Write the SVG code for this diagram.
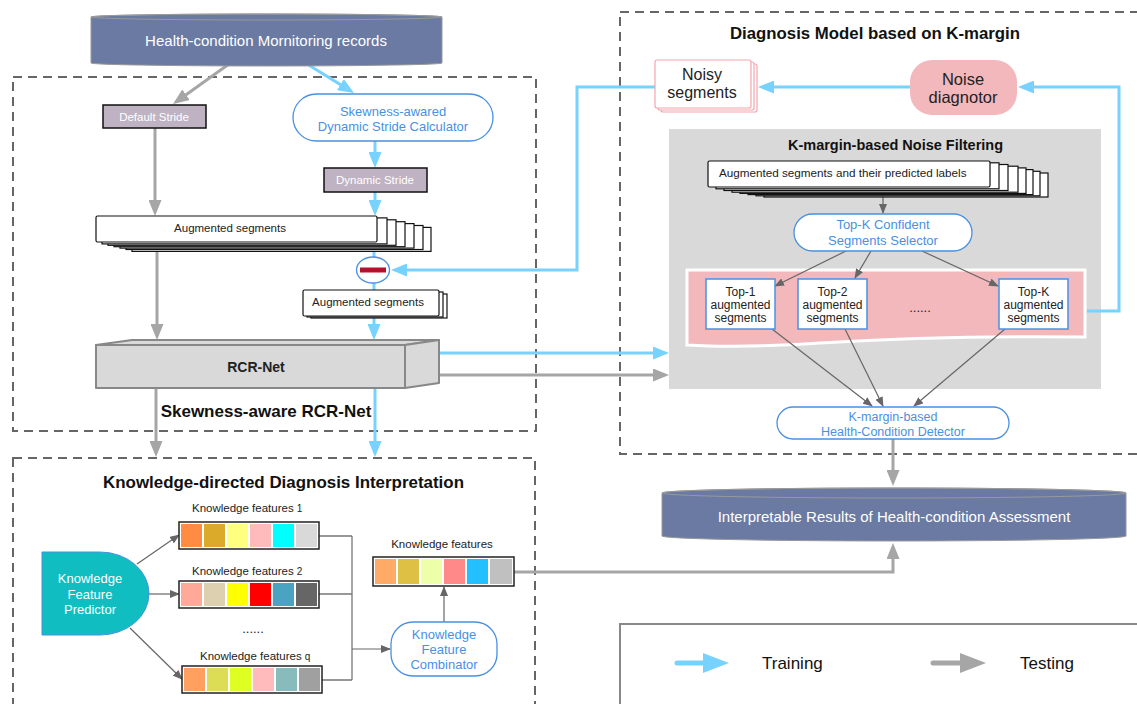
<svg xmlns="http://www.w3.org/2000/svg" width="1137" height="704" viewBox="0 0 1137 704">
<defs>
<marker id="ab" viewBox="0 0 16 13" refX="12" refY="6.5" markerWidth="16" markerHeight="13" markerUnits="userSpaceOnUse" orient="auto"><path d="M0,0 L16,6.5 L0,13 Z" fill="#78d2ff"/></marker>
<marker id="ag" viewBox="0 0 16 13" refX="12" refY="6.5" markerWidth="16" markerHeight="13" markerUnits="userSpaceOnUse" orient="auto"><path d="M0,0 L16,6.5 L0,13 Z" fill="#a6a6a6"/></marker>
<marker id="at" viewBox="0 0 10 8" refX="9" refY="4" markerWidth="10" markerHeight="8" markerUnits="userSpaceOnUse" orient="auto"><path d="M0,0 L10,4 L0,8 Z" fill="#666"/></marker>
<style>
.t{font-family:"Liberation Sans",Arial,sans-serif}
.dash{fill:none;stroke:#666;stroke-width:2;stroke-dasharray:9 6}
.blue{fill:none;stroke:#78d2ff;stroke-width:3;marker-end:url(#ab)}
.bluel{fill:none;stroke:#78d2ff;stroke-width:3}
.gray{fill:none;stroke:#a6a6a6;stroke-width:3;marker-end:url(#ag)}
.thin{fill:none;stroke:#666;stroke-width:1.2;marker-end:url(#at)}
.thinl{fill:none;stroke:#777;stroke-width:1.3}
.card{fill:#fff;stroke:#111;stroke-width:1.2}
.pcard{fill:#fff;stroke:#f4a6ad;stroke-width:1.2}
.pill{fill:#fff;stroke:#4a90e2;stroke-width:1.3}
.bt{fill:#4a90e2}
.wt{fill:#fff}
.dk{fill:#222}
.stride{fill:#bfb2c3;stroke:#111;stroke-width:1.5}
.cyl{fill:#6a7aa2;stroke:#999;stroke-width:1}
.rcr{fill:#d9d9d9;stroke:#888;stroke-width:2;stroke-linejoin:round}
.topk{fill:#fff;stroke:#4a90e2;stroke-width:1.5}
.bar{fill:#fff;stroke:#222;stroke-width:1.5}
.b{font-weight:bold}
</style>
</defs>

<!-- containers -->
<g id="containers">
<rect class="dash" x="13" y="77" width="523" height="354"/>
<rect class="dash" x="13" y="458" width="522" height="270"/>
<rect class="dash" x="620" y="12" width="540" height="442"/>
<rect x="669" y="129" width="432" height="260" fill="#d9d9d9"/>
<path d="M687,270 H1085 V337 C1000,336 900,338 820,343 C760,347 720,347 687,345 Z" fill="#f2b8bc" stroke="#fff" stroke-width="3"/>
<rect id="legend-box" x="620" y="624" width="540" height="100" fill="#fff" stroke="#888" stroke-width="2"/>
</g>

<text class="t b" x="266" y="416.5" font-size="17" text-anchor="middle" fill="#111">Skewness-aware RCR-Net</text>
<text class="t b" x="283.5" y="487.5" font-size="16.5" text-anchor="middle" fill="#111" textLength="361" lengthAdjust="spacingAndGlyphs">Knowledge-directed Diagnosis Interpretation</text>
<text class="t b" x="875" y="38.5" font-size="16.5" text-anchor="middle" fill="#111" textLength="290" lengthAdjust="spacingAndGlyphs">Diagnosis Model based on K-margin</text>
<text class="t b" x="895.5" y="150" font-size="14.5" text-anchor="middle" fill="#111">K-margin-based Noise Filtering</text>

<!-- connectors -->
<g id="connectors">
<path class="blue" d="M307,64 L350.6,90.9"/>
<path class="blue" d="M375,141 V164"/>
<path class="blue" d="M375,192 V212"/>
<path class="bluel" d="M374,251 V257"/>
<path class="bluel" d="M374,283 V290"/>
<path class="blue" d="M374,316 V336"/>
<path class="blue" d="M375,388 V453"/>
<path class="blue" d="M439,353 H665"/>
<path class="blue" d="M657,87 H577 V270 H395"/>
<path class="blue" d="M910,87 H762"/>
<path class="blue" d="M1087,311 H1119 V87 H1022"/>

<path class="gray" d="M229,64 L176.3,101.7"/>
<path class="gray" d="M155,128 V212"/>
<path class="gray" d="M157,251 V336"/>
<path class="gray" d="M156,388 V453"/>
<path class="gray" d="M439,375 H665"/>
<path class="gray" d="M893,439 V482"/>
<path class="gray" d="M514,572 H893 V547"/>

<path class="thin" d="M883,197 V213"/>
<path class="thin" d="M846,251 L775,286"/>
<path class="thin" d="M871,251 L855,278"/>
<path class="thin" d="M922,251 L998,286"/>
<path class="thin" d="M772,329 L872,406"/>
<path class="thin" d="M845,329 L883,406"/>
<path class="thin" d="M1005,329 L914,406"/>
<path class="thin" d="M137,564 L179,535"/>
<path class="thin" d="M149,594 H179"/>
<path class="thin" d="M130,628 L182,679"/>
<path class="thinl" d="M319,536 H352 M319,594 H352 M322,680 H352 M352,536 V680"/>
<path class="thin" d="M352,649 H390"/>
<path class="thin" d="M444,622 V587"/>
</g>

<!-- nodes -->
<g id="monitoring-records">
<path class="cyl" d="M91,17 A175.5,3 0 0 1 442,17 V63 A175.5,3 0 0 1 91,63 Z"/>
<ellipse cx="266.5" cy="17" rx="175.5" ry="3" fill="none" stroke="#999" stroke-width="1"/>
<text class="t wt" x="266" y="46" font-size="15" text-anchor="middle">Health-condition Mornitoring records</text>
</g>

<g id="default-stride">
<rect class="stride" x="103" y="105" width="103" height="23"/>
<text class="t wt" x="154" y="121" font-size="11.5" text-anchor="middle">Default Stride</text>
</g>

<g id="stride-calculator">
<rect class="pill" x="293" y="94" width="200" height="47" rx="23.5"/>
<text class="t bt" x="393" y="115.5" font-size="13" text-anchor="middle">Skewness-awared</text>
<text class="t bt" x="393" y="130.5" font-size="13" text-anchor="middle">Dynamic Stride Calculator</text>
</g>

<g id="dynamic-stride">
<rect class="stride" x="324" y="168" width="103" height="24"/>
<text class="t wt" x="375" y="184" font-size="11.5" text-anchor="middle">Dynamic Stride</text>
</g>

<g id="augmented-segments-1">
<rect class="card" x="132" y="227.4" width="299" height="24"/>
<rect class="card" x="126" y="225.5" width="297" height="24"/>
<rect class="card" x="120" y="223.6" width="294" height="24.5"/>
<rect class="card" x="114" y="221.7" width="291" height="25"/>
<rect class="card" x="108" y="219.8" width="288" height="25.5"/>
<rect class="card" x="102" y="217.9" width="285" height="26"/>
<rect class="card" x="96" y="216" width="281" height="26" rx="1.5"/>
<text class="t dk" x="230" y="232" font-size="11.5" text-anchor="middle">Augmented segments</text>
</g>

<g id="minus-op">
<ellipse cx="373" cy="270" rx="16.5" ry="13" fill="#fff" stroke="#4a90e2" stroke-width="1.3"/>
<rect x="360" y="267.5" width="26" height="5" fill="#b3122e"/>
</g>

<g id="augmented-segments-2">
<rect class="card" x="311" y="294" width="136" height="24"/>
<rect class="card" x="307" y="292" width="136" height="25"/>
<rect class="card" x="303" y="290" width="136" height="26" rx="1.5"/>
<text class="t dk" x="368" y="306" font-size="11.5" text-anchor="middle">Augmented segments</text>
</g>

<g id="rcr-net">
<polygon class="rcr" points="96,345 132,340 439,340 405,345"/>
<polygon class="rcr" points="405,345 439,340 439,383 405,388"/>
<rect class="rcr" x="96" y="345" width="309" height="43"/>
<text class="t b dk" x="256" y="372" font-size="14" text-anchor="middle">RCR-Net</text>
</g>

<g id="knowledge-feature-predictor">
<path d="M42,552 H100 A49,41.5 0 0 1 100,635 H42 Z" fill="#10bec2" stroke="#4a90e2" stroke-width="1"/>
<text class="t wt" x="90" y="582.5" font-size="13" text-anchor="middle">Knowledge</text>
<text class="t wt" x="90" y="598.5" font-size="13" text-anchor="middle">Feature</text>
<text class="t wt" x="90" y="613.5" font-size="13" text-anchor="middle">Predictor</text>
</g>

<g id="knowledge-features-1">
<text class="t dk" x="192" y="512" font-size="11.5">Knowledge features <tspan font-size="10">1</tspan></text>
<rect class="bar" x="179" y="522" width="140" height="27"/>
<rect x="181" y="524" width="21" height="23" fill="#ff8c42"/>
<rect x="204" y="524" width="21" height="23" fill="#dcaa2a"/>
<rect x="227" y="524" width="21" height="23" fill="#ffff80"/>
<rect x="250" y="524" width="21" height="23" fill="#ffbbbb"/>
<rect x="273" y="524" width="21" height="23" fill="#00ffff"/>
<rect x="296" y="524" width="21" height="23" fill="#d9d9d9"/>
</g>

<g id="knowledge-features-2">
<text class="t dk" x="192" y="575" font-size="11.5">Knowledge features <tspan font-size="10">2</tspan></text>
<rect class="bar" x="179" y="581" width="140" height="27"/>
<rect x="181" y="583" width="21" height="23" fill="#ffaa99"/>
<rect x="204" y="583" width="21" height="23" fill="#ddd0b0"/>
<rect x="227" y="583" width="21" height="23" fill="#ffff00"/>
<rect x="250" y="583" width="21" height="23" fill="#ff0000"/>
<rect x="273" y="583" width="21" height="23" fill="#4aa3c0"/>
<rect x="296" y="583" width="21" height="23" fill="#666666"/>
</g>

<text class="t dk" x="253" y="633" font-size="13" text-anchor="middle">......</text>

<g id="knowledge-features-q">
<text class="t dk" x="200" y="660" font-size="11.5">Knowledge features <tspan font-size="10">q</tspan></text>
<rect class="bar" x="182" y="666" width="140" height="27"/>
<rect x="184" y="668" width="21" height="23" fill="#ffa060"/>
<rect x="207" y="668" width="21" height="23" fill="#dddd55"/>
<rect x="230" y="668" width="21" height="23" fill="#ddff22"/>
<rect x="253" y="668" width="21" height="23" fill="#ffbbbb"/>
<rect x="276" y="668" width="21" height="23" fill="#88bbbb"/>
<rect x="299" y="668" width="21" height="23" fill="#a0a0a0"/>
</g>

<g id="knowledge-feature-combinator">
<rect class="pill" x="391" y="622" width="106" height="54" rx="22"/>
<text class="t bt" x="444" y="638.5" font-size="13" text-anchor="middle">Knowledge</text>
<text class="t bt" x="444" y="653.5" font-size="13" text-anchor="middle">Feature</text>
<text class="t bt" x="444" y="668.5" font-size="13" text-anchor="middle">Combinator</text>
</g>

<g id="knowledge-features-combined">
<text class="t dk" x="442" y="548" font-size="11.5" text-anchor="middle">Knowledge features</text>
<rect class="bar" x="373" y="557" width="141" height="29"/>
<rect x="375" y="559" width="21" height="25" fill="#ffaa66"/>
<rect x="398" y="559" width="21" height="25" fill="#ddc044"/>
<rect x="421" y="559" width="21" height="25" fill="#eeffaa"/>
<rect x="444" y="559" width="21" height="25" fill="#ff8888"/>
<rect x="467" y="559" width="21" height="25" fill="#22c0ff"/>
<rect x="490" y="559" width="22" height="25" fill="#c0c0c0"/>
</g>

<g id="noisy-segments">
<rect class="pcard" x="661" y="64" width="96" height="48" rx="2"/>
<rect class="pcard" x="658" y="62" width="96" height="48" rx="2"/>
<rect class="pcard" x="655" y="60" width="96" height="48" rx="2"/>
<text class="t dk" x="702" y="79.5" font-size="16" text-anchor="middle">Noisy</text>
<text class="t dk" x="702" y="97.5" font-size="16" text-anchor="middle">segments</text>
</g>

<g id="noise-diagnotor">
<rect x="910" y="60" width="107" height="55" rx="22" fill="#f2b8bc"/>
<text class="t dk" x="963" y="84.5" font-size="16.5" text-anchor="middle">Noise</text>
<text class="t dk" x="963" y="102.5" font-size="16.5" text-anchor="middle">diagnotor</text>
</g>

<g id="augmented-labels">
<rect class="card" x="764" y="173" width="284" height="24"/>
<rect class="card" x="756" y="171.3" width="284" height="24.5"/>
<rect class="card" x="748" y="169.6" width="285" height="25"/>
<rect class="card" x="740" y="167.9" width="286" height="25.5"/>
<rect class="card" x="732" y="166.2" width="286" height="26"/>
<rect class="card" x="724" y="164.5" width="284" height="26"/>
<rect class="card" x="716" y="162.8" width="283" height="26"/>
<rect class="card" x="708" y="161" width="282" height="26" rx="1.5"/>
<text class="t dk" x="719" y="177" font-size="11.7">Augmented segments and their predicted labels</text>
</g>

<g id="topk-selector">
<rect class="pill" x="794" y="214" width="178" height="37" rx="18.5"/>
<text class="t bt" x="883" y="228.5" font-size="13" text-anchor="middle">Top-K Confident</text>
<text class="t bt" x="883" y="244.5" font-size="13" text-anchor="middle">Segments Selector</text>
</g>

<g id="top-1">
<rect class="topk" x="706" y="279" width="69" height="50"/>
<text class="t dk" x="740.5" y="296" font-size="12" text-anchor="middle">Top-1</text>
<text class="t dk" x="740.5" y="308.5" font-size="12" text-anchor="middle">augmented</text>
<text class="t dk" x="740.5" y="321.5" font-size="12" text-anchor="middle">segments</text>
</g>

<g id="top-2">
<rect class="topk" x="798" y="279" width="69" height="50"/>
<text class="t dk" x="832.5" y="296" font-size="12" text-anchor="middle">Top-2</text>
<text class="t dk" x="832.5" y="308.5" font-size="12" text-anchor="middle">augmented</text>
<text class="t dk" x="832.5" y="321.5" font-size="12" text-anchor="middle">segments</text>
</g>

<text class="t dk" x="920" y="312" font-size="13" text-anchor="middle">......</text>

<g id="top-k">
<rect class="topk" x="999" y="279" width="69" height="50"/>
<text class="t dk" x="1033.5" y="296" font-size="12" text-anchor="middle">Top-K</text>
<text class="t dk" x="1033.5" y="308.5" font-size="12" text-anchor="middle">augmented</text>
<text class="t dk" x="1033.5" y="321.5" font-size="12" text-anchor="middle">segments</text>
</g>

<g id="health-condition-detector">
<rect class="pill" x="777" y="407" width="232" height="32" rx="16"/>
<text class="t bt" x="893" y="420.5" font-size="12.5" text-anchor="middle">K-margin-based</text>
<text class="t bt" x="893" y="435.5" font-size="12.5" text-anchor="middle">Health-Condition Detector</text>
</g>

<g id="interpretable-results">
<path class="cyl" d="M662,493 A232,5 0 0 1 1126,493 V536 A232,5 0 0 1 662,536 Z"/>
<ellipse cx="894" cy="493" rx="232" ry="5" fill="none" stroke="#999" stroke-width="1"/>
<text class="t wt" x="894" y="522" font-size="15" text-anchor="middle">Interpretable Results of Health-condition Assessment</text>
</g>

<g id="legend">
<line x1="677" y1="663" x2="706" y2="663" stroke="#78d2ff" stroke-width="5" stroke-linecap="round"/>
<polygon points="703,653 729,663 703,673" fill="#78d2ff"/>
<text class="t" x="762" y="669" font-size="17" fill="#111">Training</text>
<line x1="933" y1="663" x2="962" y2="663" stroke="#a6a6a6" stroke-width="5" stroke-linecap="round"/>
<polygon points="960,653 986,663 960,673" fill="#a6a6a6"/>
<text class="t" x="1020" y="669" font-size="17" fill="#111">Testing</text>
</g>
</svg>
